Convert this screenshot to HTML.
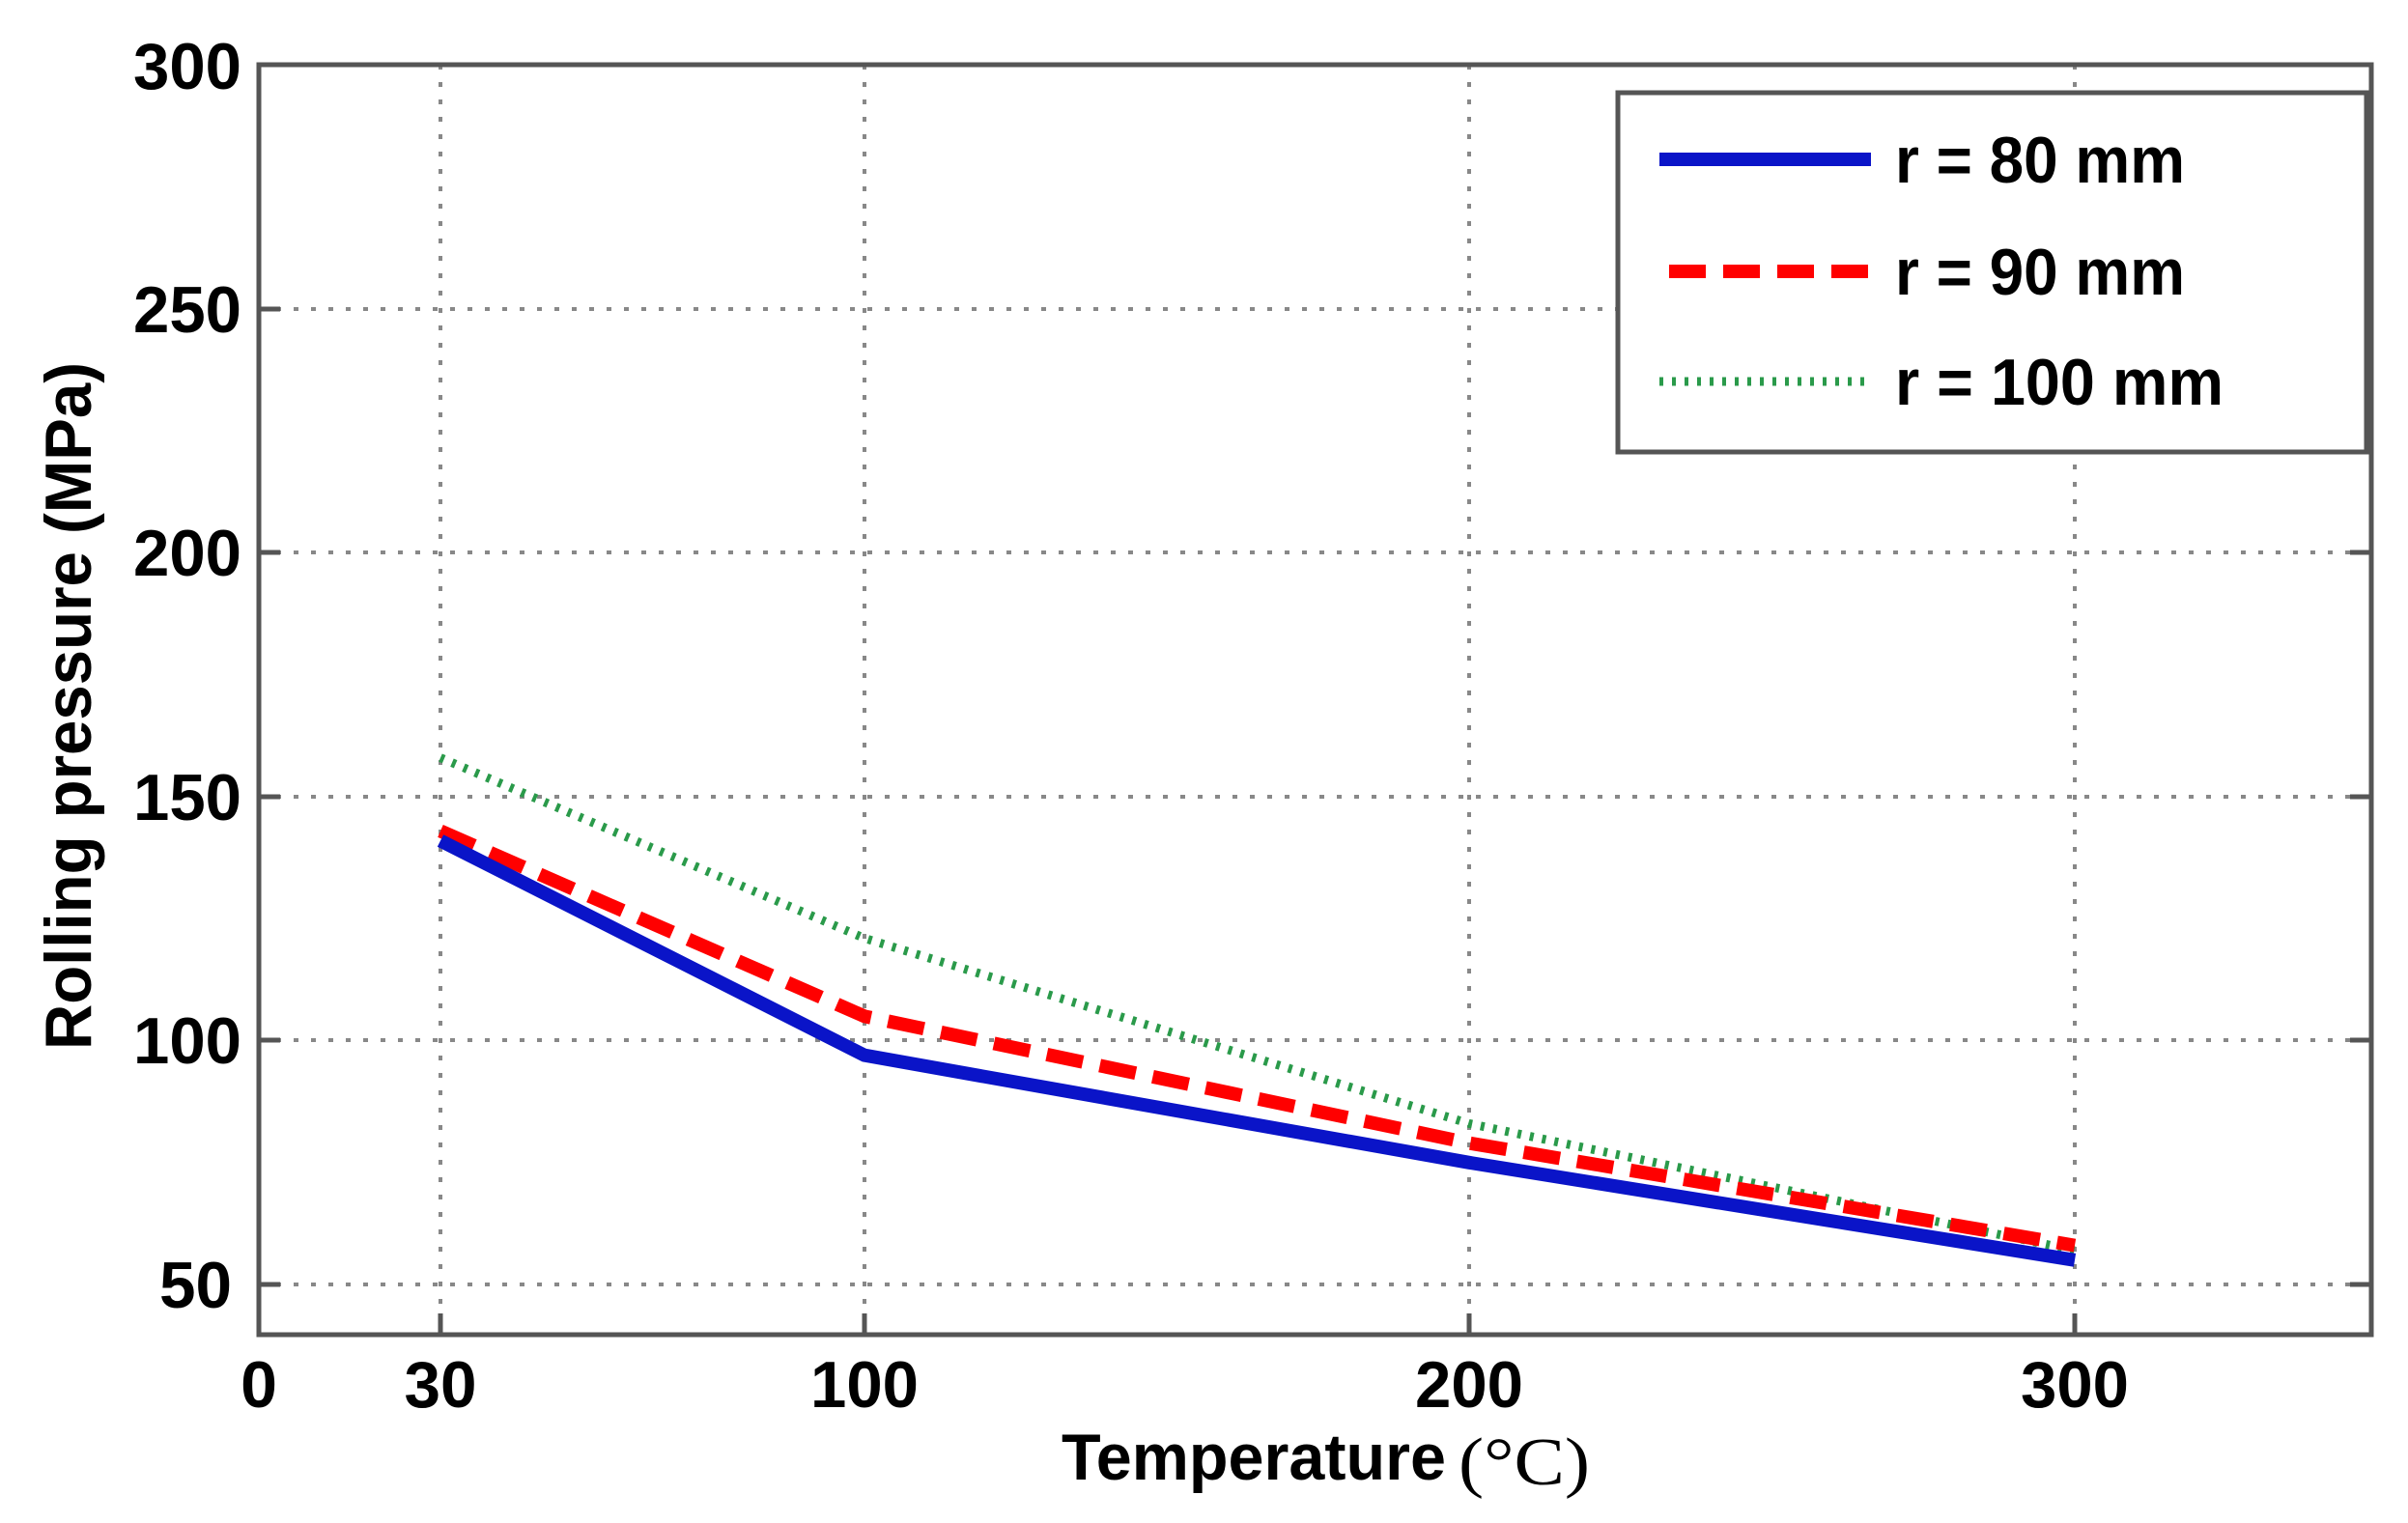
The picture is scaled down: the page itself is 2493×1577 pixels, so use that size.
<!DOCTYPE html>
<html><head><meta charset="utf-8"><style>html,body{margin:0;padding:0;background:#fff}svg{display:block}</style></head>
<body>
<svg width="2493" height="1577" viewBox="0 0 2493 1577" xmlns="http://www.w3.org/2000/svg">
<rect width="2493" height="1577" fill="#fff"/>
<g stroke="#888" stroke-width="4" stroke-dasharray="5 13">
<line x1="456" y1="67" x2="456" y2="1382"/>
<line x1="895" y1="67" x2="895" y2="1382"/>
<line x1="1521" y1="67" x2="1521" y2="1382"/>
<line x1="2148" y1="67" x2="2148" y2="1382"/>
<line x1="268" y1="320" x2="2455" y2="320"/>
<line x1="268" y1="572" x2="2455" y2="572"/>
<line x1="268" y1="825" x2="2455" y2="825"/>
<line x1="268" y1="1077" x2="2455" y2="1077"/>
<line x1="268" y1="1330" x2="2455" y2="1330"/>
</g>
<rect x="268" y="67" width="2187" height="1315" fill="none" stroke="#555" stroke-width="5"/>
<g stroke="#555" stroke-width="5">
<line x1="456" y1="1382" x2="456" y2="1360"/><line x1="895" y1="1382" x2="895" y2="1360"/><line x1="1521" y1="1382" x2="1521" y2="1360"/><line x1="2148" y1="1382" x2="2148" y2="1360"/>
<line x1="268" y1="320" x2="290" y2="320"/><line x1="268" y1="572" x2="290" y2="572"/><line x1="268" y1="825" x2="290" y2="825"/><line x1="268" y1="1077" x2="290" y2="1077"/><line x1="268" y1="1330" x2="290" y2="1330"/>
<line x1="2455" y1="320" x2="2433" y2="320"/><line x1="2455" y1="572" x2="2433" y2="572"/><line x1="2455" y1="825" x2="2433" y2="825"/><line x1="2455" y1="1077" x2="2433" y2="1077"/><line x1="2455" y1="1330" x2="2433" y2="1330"/>
</g>
<polyline points="456,784.6 895,971.5 1521,1163.4 2148,1294.7" fill="none" stroke="#2a9a4a" stroke-width="9" stroke-dasharray="4 9"/>
<polyline points="456,860.4 895,1052.3 1521,1183.6 2148,1289.6" fill="none" stroke="#ff0000" stroke-width="14" stroke-dasharray="38 18"/>
<polyline points="456,870.5 895,1092.7 1521,1203.8 2148,1304.8" fill="none" stroke="#0a14c8" stroke-width="14"/>
<rect x="1675" y="96" width="775" height="372" fill="#fff" stroke="#555" stroke-width="5"/>
<line x1="1718" y1="165" x2="1937" y2="165" stroke="#0a14c8" stroke-width="14"/>
<line x1="1728" y1="281" x2="1937" y2="281" stroke="#ff0000" stroke-width="14" stroke-dasharray="38 18"/>
<line x1="1718" y1="395" x2="1937" y2="395" stroke="#2a9a4a" stroke-width="9" stroke-dasharray="4 9"/>
<g font-family="Liberation Sans, sans-serif" font-weight="bold" font-size="68" fill="#000">
<text x="1962" y="189" textLength="300" lengthAdjust="spacingAndGlyphs">r = 80 mm</text>
<text x="1962" y="305" textLength="300" lengthAdjust="spacingAndGlyphs">r = 90 mm</text>
<text x="1962" y="419" textLength="340" lengthAdjust="spacingAndGlyphs">r = 100 mm</text>
<g text-anchor="end">
<text x="250" y="92" textLength="112" lengthAdjust="spacingAndGlyphs">300</text><text x="250" y="344" textLength="112" lengthAdjust="spacingAndGlyphs">250</text><text x="250" y="596" textLength="112" lengthAdjust="spacingAndGlyphs">200</text><text x="250" y="849" textLength="112" lengthAdjust="spacingAndGlyphs">150</text><text x="250" y="1101" textLength="112" lengthAdjust="spacingAndGlyphs">100</text><text x="240" y="1354" textLength="75" lengthAdjust="spacingAndGlyphs">50</text>
</g>
<g text-anchor="middle">
<text x="268" y="1457">0</text><text x="456" y="1457" textLength="75" lengthAdjust="spacingAndGlyphs">30</text><text x="895" y="1457" textLength="112" lengthAdjust="spacingAndGlyphs">100</text><text x="1521" y="1457" textLength="112" lengthAdjust="spacingAndGlyphs">200</text><text x="2148" y="1457" textLength="112" lengthAdjust="spacingAndGlyphs">300</text>
</g>
<text x="1099" y="1532" textLength="398" lengthAdjust="spacingAndGlyphs">Temperature</text>
<text transform="translate(94,1087) rotate(-90)" textLength="712" lengthAdjust="spacingAndGlyphs">Rolling pressure (MPa)</text>
</g>
<text x="1510" y="1537" font-family="Liberation Serif, serif" font-size="70" fill="#000" textLength="136" lengthAdjust="spacingAndGlyphs">(°C)</text>
</svg>
</body></html>
